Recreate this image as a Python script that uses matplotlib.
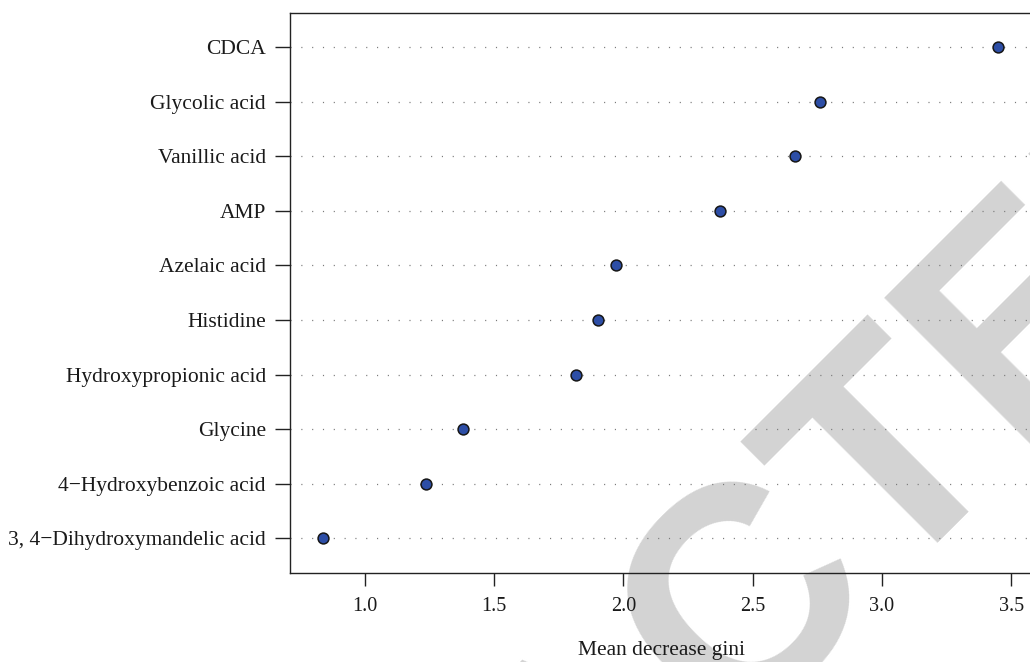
import matplotlib
matplotlib.use("Agg")
import matplotlib.pyplot as plt

# variable importance (random forest), top to bottom as in the chart
metabolites = ["CDCA", "Glycolic acid", "Vanillic acid", "AMP", "Azelaic acid",
               "Histidine", "Hydroxypropionic acid", "Glycine",
               "4\u2212Hydroxybenzoic acid", "3, 4\u2212Dihydroxymandelic acid"]
gini = [3.451, 2.761, 2.665, 2.374, 1.970, 1.902, 1.817, 1.379, 1.236, 0.839]
xticks = [1.0, 1.5, 2.0, 2.5, 3.0, 3.5]
watermark = "RETRACTED"

plt.rcParams["font.family"] = ["Liberation Serif", "DejaVu Serif"]

fig = plt.figure(figsize=(10.30, 6.62), dpi=100)
ax = fig.add_axes([290 / 1030, 89 / 662, 742 / 1030, 559.5 / 662])
ax.set_facecolor("none")

n = len(metabolites)
ypos = list(range(n, 0, -1))

# dotted guide lines then the points
for y in ypos:
    ax.axhline(y, color="#7a7a7a", lw=0.9, dashes=(0.9, 7.75), zorder=1)
ax.plot(gini, ypos, "o", ms=7.8, mfc="#2d4ea6", mec="#161616", mew=1.1,
        ls="none", zorder=3)

ax.set_xlim(0.710, 3.581)
ax.set_ylim(0.365, 10.615)
ax.set_yticks(ypos)
ax.set_yticklabels(metabolites)
ax.set_xticks(xticks)
ax.set_xticklabels([f"{t:.1f}" for t in xticks])

for s in ax.spines.values():
    s.set_color("#222222")
    s.set_linewidth(1.0)
ax.tick_params(axis="y", length=10.8, width=1.0, color="#222222", pad=6.5,
               labelsize=15.5, labelcolor="#1a1a1a")
ax.tick_params(axis="x", length=9.1, width=1.0, color="#222222", pad=8,
               labelsize=14.5, labelcolor="#1a1a1a")
ax.set_xlabel("Mean decrease gini", fontsize=15.5, color="#1a1a1a", labelpad=18)

# grey watermark behind the plot
fig.text(648 / 1030, 1 - 812 / 662, watermark, fontsize=220,
         family="Liberation Sans", weight="bold", color="#d3d3d3",
         rotation=45, rotation_mode="anchor", ha="center", va="baseline",
         zorder=-1)

fig.savefig("out.png", dpi=100)
